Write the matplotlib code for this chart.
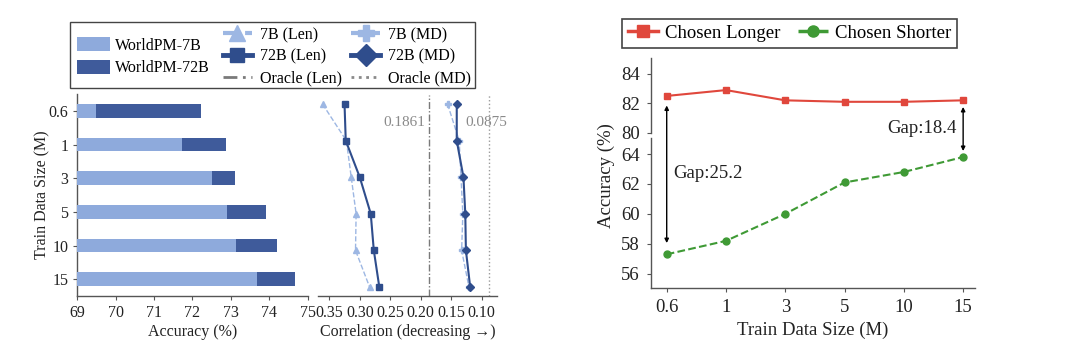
import matplotlib
matplotlib.use("Agg")
import matplotlib.pyplot as plt
from matplotlib.lines import Line2D
from matplotlib.patches import Patch, Rectangle

plt.rcParams['font.family'] = ['Liberation Serif', 'DejaVu Serif']
plt.rcParams['mathtext.fontset'] = 'stix'

# ---------------- data ----------------
sizes = ['0.6', '1', '3', '5', '10', '15']

acc_7b = [69.50, 71.73, 72.52, 72.89, 73.13, 73.69]
acc_72b = [72.22, 72.87, 73.11, 73.91, 74.21, 74.67]

corr_len_7b = [0.361, 0.322, 0.314, 0.306, 0.307, 0.284]
corr_len_72b = [0.325, 0.323, 0.300, 0.282, 0.277, 0.268]
corr_md_7b = [0.156, 0.137, 0.134, 0.131, 0.133, 0.121]
corr_md_72b = [0.141, 0.141, 0.130, 0.127, 0.126, 0.119]
oracle_len = 0.1861
oracle_md = 0.0875

chosen_longer = [82.5, 82.9, 82.2, 82.1, 82.1, 82.2]
chosen_shorter = [57.3, 58.2, 60.0, 62.1, 62.8, 63.8]

# ---------------- style ----------------
LIGHT = '#8eaadc'
DARK = '#3f5b9b'
LIGHT_L = '#9db7e3'
DARK_L = '#2f4d8c'
GRAY = '#7a7a7a'
RED = '#e0473c'
GREEN = '#3f9a35'
SPINE = '#555555'
TXT = '#222222'

W, H = 1080, 351
fig = plt.figure(figsize=(W / 100, H / 100), dpi=100)


def fx(px):
    return px / W


def fy(py):
    return 1 - py / H


def style_axes(ax, fs, pad=3.5):
    for s in ['top', 'right']:
        ax.spines[s].set_visible(False)
    for s in ['left', 'bottom']:
        ax.spines[s].set_color(SPINE)
        ax.spines[s].set_linewidth(1.0)
    ax.tick_params(colors=SPINE, labelcolor=TXT, labelsize=fs, length=3, width=0.8, pad=pad)


# ---------------- bar panel ----------------
fs_l = 11.5
ax_bar = fig.add_axes([fx(77.3), fy(296), fx(307.7 - 77.3), (296 - 94) / H])
ypos = list(range(len(sizes)))
ax_bar.barh(ypos, acc_72b, height=0.4, color=DARK, zorder=2)
ax_bar.barh(ypos, acc_7b, height=0.4, color=LIGHT, zorder=3)
ax_bar.set_xlim(69, 75)
ax_bar.set_ylim(5.5, -0.5)
ax_bar.set_xticks([69, 70, 71, 72, 73, 74, 75])
ax_bar.set_yticks(ypos)
ax_bar.set_yticklabels(sizes)
style_axes(ax_bar, fs_l)
ax_bar.set_xlabel('Accuracy (%)', fontsize=fs_l, color=TXT, labelpad=2)
ax_bar.set_ylabel('Train Data Size (M)', fontsize=fs_l, color=TXT, labelpad=-1)

# ---------------- correlation panel ----------------
ax_c = fig.add_axes([fx(318), fy(296), fx(497 - 318), (296 - 95) / H])
ax_c.plot(corr_len_7b, ypos, color=LIGHT_L, ls='--', lw=1.0, marker='^', ms=4, zorder=3)
ax_c.plot(corr_len_72b, ypos, color=DARK_L, ls='-', lw=1.5, marker='s', ms=4.5, zorder=4)
ax_c.plot(corr_md_7b, ypos, color=LIGHT_L, ls='--', lw=1.0, marker='P', ms=5, zorder=3)
ax_c.plot(corr_md_72b, ypos, color=DARK_L, ls='-', lw=1.5, marker='D', ms=4.5, zorder=4)
ax_c.axvline(oracle_len, color=GRAY, ls=(0, (5, 1.5, 1, 1.5)), lw=1.0, zorder=1)
ax_c.axvline(oracle_md, color='#9a9a9a', ls=':', lw=1.0, zorder=1)
ax_c.set_xlim(0.3685, 0.075)
ax_c.set_ylim(5.25, -0.25)
ax_c.set_xticks([0.35, 0.30, 0.25, 0.20, 0.15, 0.10])
ax_c.set_xticklabels(['0.35', '0.30', '0.25', '0.20', '0.15', '0.10'])
ax_c.set_yticks([])
style_axes(ax_c, fs_l)
ax_c.spines['left'].set_visible(False)
ax_c.set_xlabel('Correlation (decreasing →)', fontsize=fs_l, color=TXT, labelpad=2)
ax_c.text(oracle_len + 0.006, 0.5, f'{oracle_len:.4f}', ha='right', va='center',
          fontsize=11, color='#8a8a8a')
ax_c.text(oracle_md + 0.040, 0.5, f'{oracle_md:.4f}', ha='left', va='center',
          fontsize=11, color='#8a8a8a', clip_on=False)

# ---------------- left legends ----------------
fig.add_artist(Rectangle((fx(70), fy(88.3)), fx(475 - 70), (88.3 - 21.7) / H,
                         transform=fig.transFigure, fill=False,
                         edgecolor='#444444', lw=1.0))
bar_handles = [Patch(facecolor=LIGHT, edgecolor='none'), Patch(facecolor=DARK, edgecolor='none')]
leg1 = fig.legend(bar_handles, ['WorldPM-7B', 'WorldPM-72B'], loc='center left',
                  bbox_to_anchor=(fx(76.7), fy(56.7)), frameon=False, fontsize=11.5,
                  borderpad=0, borderaxespad=0, handlelength=2.1, handleheight=0.95,
                  handletextpad=0.3, labelspacing=0.4)
line_handles = [
    Line2D([], [], color=LIGHT_L, ls='--', lw=3, marker='^', ms=11),
    Line2D([], [], color=DARK_L, ls='-', lw=3.5, marker='s', ms=10),
    Line2D([], [], color=GRAY, ls=(0, (5, 2, 1, 2)), lw=2),
    Line2D([], [], color=LIGHT_L, ls='--', lw=3, marker='P', ms=12),
    Line2D([], [], color=DARK_L, ls='-', lw=3.5, marker='D', ms=11),
    Line2D([], [], color='#8a8a8a', ls=':', lw=2),
]
line_labels = ['7B (Len)', '72B (Len)', 'Oracle (Len)', '7B (MD)', '72B (MD)', 'Oracle (MD)']
leg2 = fig.legend(line_handles, line_labels, loc='center left', ncol=2,
                  bbox_to_anchor=(fx(223), fy(56.5)), frameon=False, fontsize=11.5,
                  borderpad=0, borderaxespad=0, handlelength=1.8, handletextpad=0.5,
                  labelspacing=0.35, columnspacing=0.6)

# ---------------- right panel (broken axis) ----------------
fs_r = 13.5
xs = list(range(len(sizes)))
ax_t = fig.add_axes([fx(650.7), fy(133.3), fx(975 - 650.7), (133.3 - 58.3) / H])
ax_b = fig.add_axes([fx(650.7), fy(288), fx(975 - 650.7), (288 - 138.3) / H])
for ax in (ax_t, ax_b):
    ax.plot(xs, chosen_longer, color=RED, ls='-', lw=1.5, marker='s', ms=5)
    ax.plot(xs, chosen_shorter, color=GREEN, ls='--', lw=1.5, marker='o', ms=5)
    ax.set_xlim(-0.27, 5.2)
    style_axes(ax, fs_r, pad=5)
ax_t.set_ylim(79.95, 85.07)
ax_b.set_ylim(55.05, 65.05)
ax_t.set_yticks([80, 82, 84])
ax_b.set_yticks([56, 58, 60, 62, 64])
ax_t.spines['bottom'].set_visible(False)
ax_t.set_xticks([])
ax_b.set_xticks(xs)
ax_b.set_xticklabels(sizes)
ax_b.set_xlabel('Train Data Size (M)', fontsize=fs_r, color=TXT, labelpad=4)
fig.text(fx(606), fy(176), 'Accuracy (%)', rotation=90, ha='center', va='center',
         fontsize=fs_r, color=TXT)

arrow_kw = dict(arrowstyle='<|-|>', color='black', lw=1.0, mutation_scale=6,
                shrinkA=0, shrinkB=0)
ax_b.annotate('', xy=(xs[0], chosen_shorter[0] + 0.75), xycoords=ax_b.transData,
              xytext=(xs[0], chosen_longer[0] - 0.65), textcoords=ax_t.transData,
              arrowprops=arrow_kw, annotation_clip=False)
ax_b.annotate('', xy=(xs[-1], chosen_shorter[-1] + 0.4), xycoords=ax_b.transData,
              xytext=(xs[-1], chosen_longer[-1] - 0.45), textcoords=ax_t.transData,
              arrowprops=arrow_kw, annotation_clip=False)
ax_b.text(0.7, 62.7, f'Gap:{chosen_longer[0] - chosen_shorter[0]:.1f}', ha='center',
          va='center', fontsize=fs_r, color=TXT)
ax_t.text(4.31, 80.3, f'Gap:{chosen_longer[-1] - chosen_shorter[-1]:.1f}', ha='center',
          va='center', fontsize=fs_r, color=TXT)

r_handles = [Line2D([], [], color=RED, ls='-', lw=2.5, marker='s', ms=8),
             Line2D([], [], color=GREEN, ls='--', lw=2.5, marker='o', ms=8)]
leg3 = fig.legend(r_handles, ['Chosen Longer', 'Chosen Shorter'], loc='center', ncol=2,
                  bbox_to_anchor=(fx(789.5), fy(33.35)), fontsize=fs_r, fancybox=False,
                  edgecolor='#444444', framealpha=1, borderpad=0.3, borderaxespad=0,
                  handlelength=1.6, handletextpad=0.4, columnspacing=0.9)
leg3.get_frame().set_linewidth(1.2)

fig.savefig('out.png', dpi=100, facecolor='white')
